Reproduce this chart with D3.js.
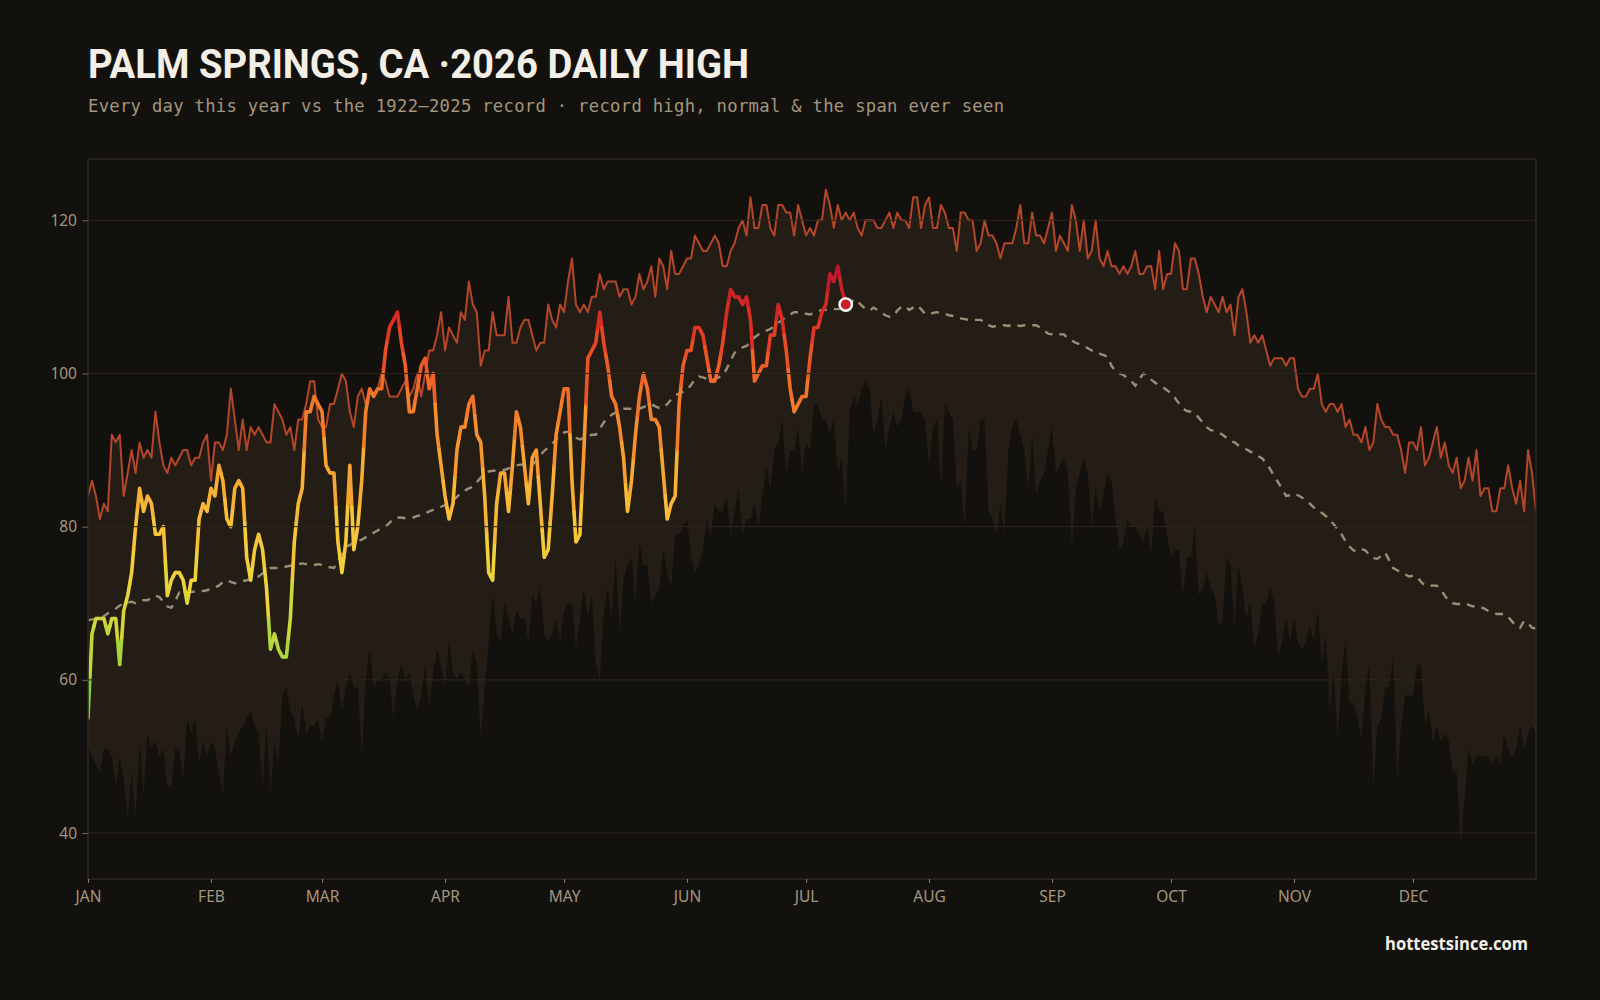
<!DOCTYPE html>
<html>
<head>
<meta charset="utf-8">
<script src="https://cdn.jsdelivr.net/npm/d3@7"></script>
<style>
  html, body { margin: 0; padding: 0; background: #13110d; }
  svg { display: block; }
</style>
</head>
<body>
<svg id="chart" width="1600" height="1000"></svg>
<script>
// ---------------- DATA ----------------
const titleText = "PALM SPRINGS, CA \u00b72026 DAILY HIGH";
const subtitleText = "Every day this year vs the 1922\u20132025 record \u00b7 record high, normal & the span ever seen";
const creditText = "hottestsince.com";

const monthStarts = [0, 31, 59, 90, 120, 151, 181, 212, 243, 273, 304, 334];
const monthLabels = ["JAN","FEB","MAR","APR","MAY","JUN","JUL","AUG","SEP","OCT","NOV","DEC"];
const yTicks = [40, 60, 80, 100, 120];

// record high by day of year (index 0 = Jan 1)
const recordHigh = [
 84,86,84,81,83,82,92,91,92,84, 87,90,87,91,89,90,89,95,91,88,
 87,89,88,89,90,90,88,89,89,91, 92,86,91,91,90,92,98,94,90,94,
 90,93,92,93,92,91,91,96,95,94, 92,93,90,94,94,96,99,99,94,93,
 93,96,96,98,100,99,95,93,97,98, 96,98,97,98,100,99,97,97,97,98,
 99,97,98,100,97,100,103,103,105,108, 103,106,105,104,108,107,112,109,108,101,
 103,103,108,105,105,105,110,104,104,106, 107,107,105,103,104,104,109,107,106,109,
 108,112,115,109,108,109,108,110,110,113, 111,112,112,112,110,111,111,109,110,113,
 111,112,114,110,115,114,111,116,113,113, 114,115,115,118,117,116,116,117,118,117,
 114,114,116,117,119,120,118,123,119,119, 122,122,119,118,122,122,121,121,118,122,
 120,118,119,118,120,120,124,122,119,122, 120,121,120,121,119,118,120,120,120,119,
 119,120,121,119,121,120,120,119,123,123, 119,122,123,119,119,122,121,119,119,116,
 121,121,120,120,116,117,120,118,118,117, 115,117,117,117,119,122,117,117,121,118,
 118,117,119,121,116,118,117,116,122,120, 116,120,115,116,120,115,114,116,114,114,
 113,114,113,114,116,113,113,114,114,111, 116,111,113,113,117,116,111,111,115,115,
 113,110,108,110,109,108,110,108,109,105, 110,111,108,104,105,104,105,103,101,102,
 102,102,101,102,102,98,97,97,98,98, 100,96,95,96,96,95,96,93,94,92,
 92,91,93,90,91,96,94,93,93,92, 92,90,87,91,91,90,93,88,89,91,
 93,89,91,88,87,89,85,86,89,86, 90,84,85,85,82,82,85,85,88,85,
 83,86,82,90,87,82
];

// record low high-temperature (lowest daily high ever) by day of year
const recordLow = [
 51.5,50,49,48,51,51,50,46,50,47, 42,48,42,52,45,53,51,52,50,51,
 46,46,51,51,47,55,53,55,49,52, 50,52,51,48,45,54,50,52,53,54,
 55,56,54,53,46,54,45,52,49,58, 59,56,55,52,57,53,54,54,55,52,
 55,55,58,60,56,59,61,59,59,50, 60,64,59,60,60,61,60,55,60,62,
 60,61,58,56,58,62,56,61,64,62, 59,65,61,60,61,60,59,64,62,52,
 59,65,71,66,65,70,68,66,69,68, 68,65,71,70,72,66,65,66,68,65,
 69,70,70,64,68,72,68,71,62,60, 69,72,68,76,66,73,75,76,70,78,
 75,75,70,71,72,77,74,72,79,79, 80,81,76,74,75,77,81,79,83,82,
 82,84,79,82,85,79,81,81,83,80, 84,88,85,90,91,94,87,90,90,93,
 87,91,90,96,96,94,94,92,94,87, 89,82,95,97,96,98,99,98,92,94,
 97,90,93,95,93,94,97,98,95,95, 95,94,88,93,94,85,96,95,94,85,
 86,80,93,90,90,94,94,82,81,79, 83,79,90,93,94,92,90,85,92,84,
 86,87,90,93,87,88,89,87,77,85, 87,89,87,80,85,82,84,87,86,81,
 77,78,81,80,80,79,78,80,76,84, 82,82,79,76,77,77,71,76,76,80,
 71,72,74,72,71,67,68,76,75,67, 75,72,68,70,64,66,70,70,72,70,
 63,65,68,65,68,65,64,65,67,65, 69,62,66,56,61,52,61,65,57,57,
 55,52,59,62,46,54,55,59,59,63, 47,54,58,58,58,62,62,54,56,52,
 54,52,53,52,48,48,38.4,44.6,51,49, 50,50,50,50,49,50,49,53,51,50,
 51,54,51,53,54,53
];

// normal daily high by day of year
const normalHigh = [
 67.8,67.9,67.9,68.0,68.3,68.7,69.0,69.3,69.7,70.0,
 70.1,70.2,70.0,70.2,70.4,70.4,70.7,71.0,70.8,70.2,
 69.6,69.4,70.3,71.4,71.3,71.4,71.5,71.5,71.6,71.6,
 71.7,71.9,72.1,72.3,72.8,73.0,72.8,72.6,72.7,72.9,
 73.0,73.2,73.3,73.5,73.9,74.3,74.6,74.6,74.6,74.7,
 74.8,74.9,75.0,75.1,75.2,75.1,75.0,75.0,75.1,75.0,
 74.8,74.7,74.6,75.5,76.5,77.4,77.6,77.9,78.1,78.3,
 78.6,78.9,79.2,79.5,79.8,80.0,80.5,81.0,81.2,81.2,
 81.1,81.1,81.2,81.4,81.5,81.7,82.0,82.2,82.4,82.6,
 82.8,83.0,83.4,83.9,84.4,84.7,85.0,85.2,85.8,86.4,
 86.9,87.2,87.3,87.3,87.4,87.4,87.6,87.8,88.0,88.1,
 88.1,88.1,88.1,88.6,89.3,89.9,90.3,90.8,91.4,91.9,
 92.3,92.4,92.0,91.6,91.4,91.6,91.8,92.0,92.0,92.8,
 93.6,94.2,94.6,94.9,95.2,95.4,95.4,95.4,95.4,95.4,
 95.6,95.8,96.0,95.7,95.5,95.5,96.0,96.6,97.1,97.4,
 97.6,97.8,98.5,99.2,99.6,99.5,99.3,99.1,99.3,99.5,
 99.7,100.6,101.7,102.7,103.1,103.4,103.6,104.1,104.7,105.1,
 105.4,105.6,105.8,106.2,106.6,107.0,107.4,107.7,108.0,108.0,
 107.9,107.8,107.7,107.9,108.1,108.3,108.3,108.4,108.4,108.4,
 108.5,108.7,108.9,109.7,109.4,108.9,108.4,108.2,108.6,108.3,
 107.9,107.6,107.4,107.5,108.2,108.7,108.8,108.3,108.6,108.9,
 108.4,107.8,107.7,107.9,108.0,107.9,107.8,107.6,107.5,107.3,
 107.2,107.1,107.0,107.0,107.0,107.0,106.6,106.3,106.1,106.2,
 106.3,106.3,106.2,106.4,106.3,106.2,106.3,106.3,106.3,106.3,
 106.0,105.6,105.2,105.1,105.0,105.1,105.1,104.6,104.3,104.0,
 103.8,103.6,103.3,103.0,102.8,102.6,102.4,102.2,101.0,100.3,
 100.0,99.8,99.4,99.0,98.4,99.2,100.0,99.8,99.2,98.8,
 98.5,98.2,97.8,97.4,96.8,96.1,95.4,95.1,95.0,94.8,
 94.2,93.6,93.0,92.6,92.5,92.3,92.0,91.6,91.2,91.0,
 90.6,90.3,90.1,89.8,89.5,89.2,88.9,88.3,87.5,86.6,
 85.8,84.9,84.0,84.1,84.3,84.1,83.8,83.4,83.0,82.5,
 82.1,81.8,81.4,81.0,80.3,79.7,79.0,78.1,77.4,76.9,
 76.8,77.1,76.9,76.3,75.9,75.8,76.2,76.6,75.6,74.6,
 74.3,74.0,73.8,73.5,73.6,73.5,72.8,72.3,72.3,72.3,
 72.3,71.8,71.0,70.3,70.0,69.9,69.9,70.0,69.8,69.6,
 69.6,69.5,69.3,69.0,68.8,68.6,68.6,68.6,68.2,67.6,
 67.0,66.8,67.7,67.4,66.8,66.7
];

// 2026 observed daily highs, Jan 1 .. Jul 11
const high2026 = [
 55,66,68,68,68,66,68,68,62,69, 71,74,80,85,82,84,83,79,79,80,
 71,73,74,74,73,70,73,73,81,83, 82,85,84,88,86,81,80,85,86,85,
 76,73,77,79,77,72,64,66,64,63, 63,68,78,83,85,95,95,97,96,95,
 88,87,87,78,74,78,88,77,80,86, 95,98,97,98,98,103,106,107,108,104,
 101,95,95,98,101,102,98,100,92,88, 84,81,83,90,93,93,96,97,92,91,
 84,74,73,83,87,87,82,88,95,93, 88,83,89,90,83,76,77,84,92,95,
 98,98,86,78,79,90,102,103,104,108, 104,101,97,96,93,89,82,86,92,97,
 100,98,94,94,93,87,81,83,84,96, 101,103,103,106,106,105,102,99,99,101,
 104,108,111,110,110,109,110,107,99,100, 101,101,105,105,109,107,103,98,95,96,
 97,97,102,106,106,108,109,113,112,114, 111,109
];

// colour ramp for the 2026 line (by temperature)
const rampStops = [55, 65, 72, 80, 88, 95, 101, 107, 114];
const rampColors = ["#86cf45", "#b6d83c", "#eed53b", "#f8c23a", "#f6a331", "#f37f2b", "#ee5d27", "#dc2f22", "#b8172c"];

// ---------------- CHART ----------------
const W = 1600, H = 1000;
const M = { left: 88, right: 64, top: 159, bottom: 121 };
const svg = d3.select("#chart");

svg.append("rect").attr("width", W).attr("height", H).attr("fill", "#13110d");

const x = d3.scaleLinear().domain([0, 365]).range([M.left, W - M.right]);
const y = d3.scaleLinear().domain([34, 128]).range([H - M.bottom, M.top]);
const color = d3.scaleLinear().domain(rampStops).range(rampColors).clamp(true);

svg.append("defs").append("clipPath").attr("id", "plotclip")
  .append("rect").attr("x", M.left).attr("y", M.top)
  .attr("width", W - M.left - M.right).attr("height", H - M.top - M.bottom);

// title / subtitle
svg.append("text").attr("x", 88).attr("y", 78)
  .attr("font-family", "Roboto, 'Open Sans', sans-serif").attr("font-weight", 700)
  .attr("font-size", 41).attr("fill", "#f4efe6")
  .attr("textLength", 661).attr("lengthAdjust", "spacingAndGlyphs")
  .text(titleText);
svg.append("text").attr("x", 88).attr("y", 112)
  .attr("font-family", "'DejaVu Sans Mono', monospace")
  .attr("font-size", 17.2).attr("fill", "#a3967e")
  .attr("textLength", 916).attr("lengthAdjust", "spacing")
  .text(subtitleText);

const plot = svg.append("g").attr("clip-path", "url(#plotclip)");

// band between record low and record high
const days = d3.range(recordHigh.length);
plot.append("path")
  .datum(days)
  .attr("fill", "#241d15")
  .attr("d", d3.area().x(d => x(d)).y0(d => y(recordLow[d])).y1(d => y(recordHigh[d])));

// grid
svg.append("g").selectAll("line").data(yTicks).join("line")
  .attr("x1", M.left).attr("x2", W - M.right)
  .attr("y1", d => y(d)).attr("y2", d => y(d))
  .attr("stroke", "#2e251c").attr("stroke-width", 1);

// record high line
plot.append("path").datum(days)
  .attr("fill", "none").attr("stroke", "#b4462a").attr("stroke-width", 2)
  .attr("stroke-linejoin", "round")
  .attr("d", d3.line().x(d => x(d)).y(d => y(recordHigh[d])));

// normal dashed line
plot.append("path").datum(days)
  .attr("fill", "none").attr("stroke", "#9a8e77").attr("stroke-width", 2.4)
  .attr("stroke-dasharray", "8,7")
  .attr("d", d3.line().x(d => x(d)).y(d => y(normalHigh[d])));

// 2026 line, coloured day by day
const n = high2026.length;
const segLine = d3.line().x(p => p[0]).y(p => p[1]);
const segs = d3.range(n).map(i => {
  const pts = [];
  if (i > 0) pts.push([x(i - 0.5), y((high2026[i - 1] + high2026[i]) / 2)]);
  pts.push([x(i), y(high2026[i])]);
  if (i < n - 1) pts.push([x(i + 0.5), y((high2026[i] + high2026[i + 1]) / 2)]);
  return { v: high2026[i], pts };
});
plot.append("g").selectAll("path").data(segs).join("path")
  .attr("fill", "none")
  .attr("stroke", d => color(d.v))
  .attr("stroke-width", 3.6)
  .attr("stroke-linecap", "round")
  .attr("stroke-linejoin", "round")
  .attr("d", d => segLine(d.pts));

// latest point
svg.append("circle")
  .attr("cx", x(n - 1)).attr("cy", y(high2026[n - 1]))
  .attr("r", 6.2).attr("fill", "#c91f29")
  .attr("stroke", "#ffffff").attr("stroke-width", 2.4);

// frame
svg.append("rect").attr("x", M.left).attr("y", M.top)
  .attr("width", W - M.left - M.right).attr("height", H - M.top - M.bottom)
  .attr("fill", "none").attr("stroke", "#2c2720").attr("stroke-width", 1.5);

// axes
const yAxis = d3.axisLeft(y).tickValues(yTicks).tickSize(6).tickPadding(5);
const gy = svg.append("g").attr("transform", `translate(${M.left},0)`).call(yAxis);
gy.select(".domain").remove();
gy.selectAll(".tick line").attr("stroke", "#6e6353");
gy.selectAll(".tick text").attr("fill", "#a3967e")
  .attr("font-family", "'Noto Sans', sans-serif").attr("font-size", 15.5);

const xAxis = d3.axisBottom(x).tickValues(monthStarts)
  .tickFormat((d, i) => monthLabels[i]).tickSize(4).tickPadding(8);
const gx = svg.append("g").attr("transform", `translate(0,${H - M.bottom})`).call(xAxis);
gx.select(".domain").remove();
gx.selectAll(".tick line").attr("stroke", "#8a7e6a");
gx.selectAll(".tick text").attr("fill", "#a3967e")
  .attr("font-family", "'Noto Sans', sans-serif").attr("font-size", 15.5);

// credit
svg.append("text").attr("x", 1528).attr("y", 950)
  .attr("text-anchor", "end")
  .attr("font-family", "'Open Sans', sans-serif").attr("font-weight", 700)
  .attr("font-size", 17).attr("fill", "#f4efe6")
  .attr("textLength", 143).attr("lengthAdjust", "spacingAndGlyphs")
  .text(creditText);
</script>
</body>
</html>
